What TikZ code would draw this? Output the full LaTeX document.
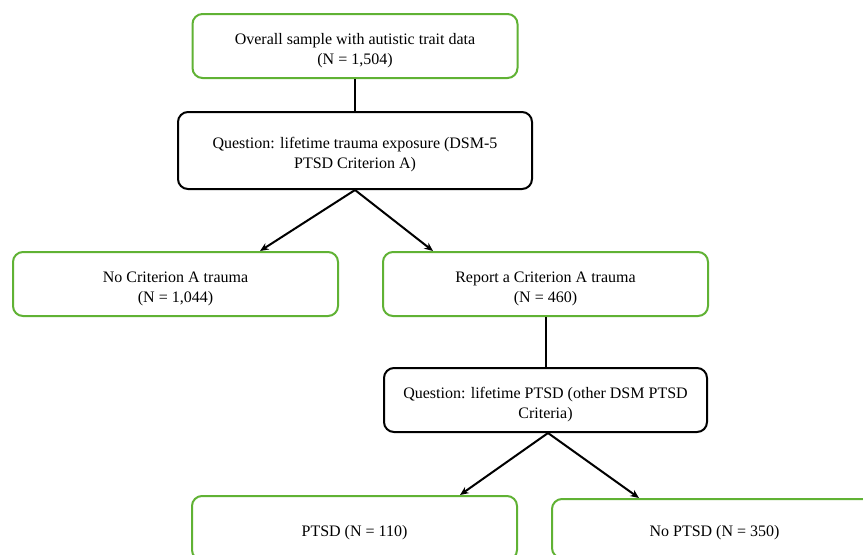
\documentclass[tikz,border=0pt]{standalone}
\usepackage{fontspec}
\setmainfont{Liberation Serif}
\usetikzlibrary{calc,arrows.meta}
\definecolor{boxgreen}{RGB}{96,178,52}
\begin{document}
\begin{tikzpicture}[x=0.75pt,y=-0.75pt,
  txt/.style={align=center,font=\fontsize{12}{15}\selectfont,inner sep=0pt,yshift=-3.4pt},
  base/.style={rectangle,rounded corners=7.5pt,line width=1.5pt,inner sep=0pt},
  greenbox/.style={base,draw=boxgreen,minimum width=243.75pt,minimum height=48pt},
  qbox/.style={base,draw=black},
  link/.style={line width=1.5pt,draw=black},
  arrowlink/.style={link,-{Stealth[length=6.5pt,width=5.5pt]}}]
\useasboundingbox (0,0) rectangle (863,554);
\clip (0,0) rectangle (863,554);
\fill[white] (0,0) rectangle (863,554);
\node[greenbox,label={[txt]center:{Overall sample with autistic trait data\\(N = 1,504)}}] (b1) at (355,46) {};
\node[qbox,minimum width=265.5pt,minimum height=57.75pt,label={[txt]center:{Question: lifetime trauma exposure (DSM-5\\PTSD Criterion A)}}] (b2) at (355,150.5) {};
\node[greenbox,label={[txt]center:{No Criterion A trauma\\(N = 1,044)}}] (b3) at (175.5,284) {};
\node[greenbox,label={[txt]center:{Report a Criterion A trauma\\(N = 460)}}] (b4) at (545.5,284) {};
\node[qbox,minimum width=242.25pt,minimum height=48pt,label={[txt]center:{Question: lifetime PTSD (other DSM PTSD\\Criteria)}}] (b5) at (545.5,400) {};
\node[greenbox,label={[txt]center:{PTSD (N = 110)}}] (b6) at (354.5,528) {};
\node[greenbox,minimum height=44.25pt,label={[txt]center:{No PTSD (N = 350)}}] (b7) at (714.5,528.5) {};
\draw[link] (b1.south) -- (b2.north);
\draw[link] (b4.south) -- (b5.north);
\draw[arrowlink] (b2.south) -- ($(b3.north)+(84.5,0)$);
\draw[arrowlink] (b2.south) -- ($(b4.north)+(-112.5,0)$);
\draw[arrowlink] ($(b5.south)+(2.5,0)$) -- ($(b6.north)+(105.5,0)$);
\draw[arrowlink] ($(b5.south)+(2.5,0)$) -- ($(b7.north)+(-75.5,0)$);
\end{tikzpicture}
\end{document}
